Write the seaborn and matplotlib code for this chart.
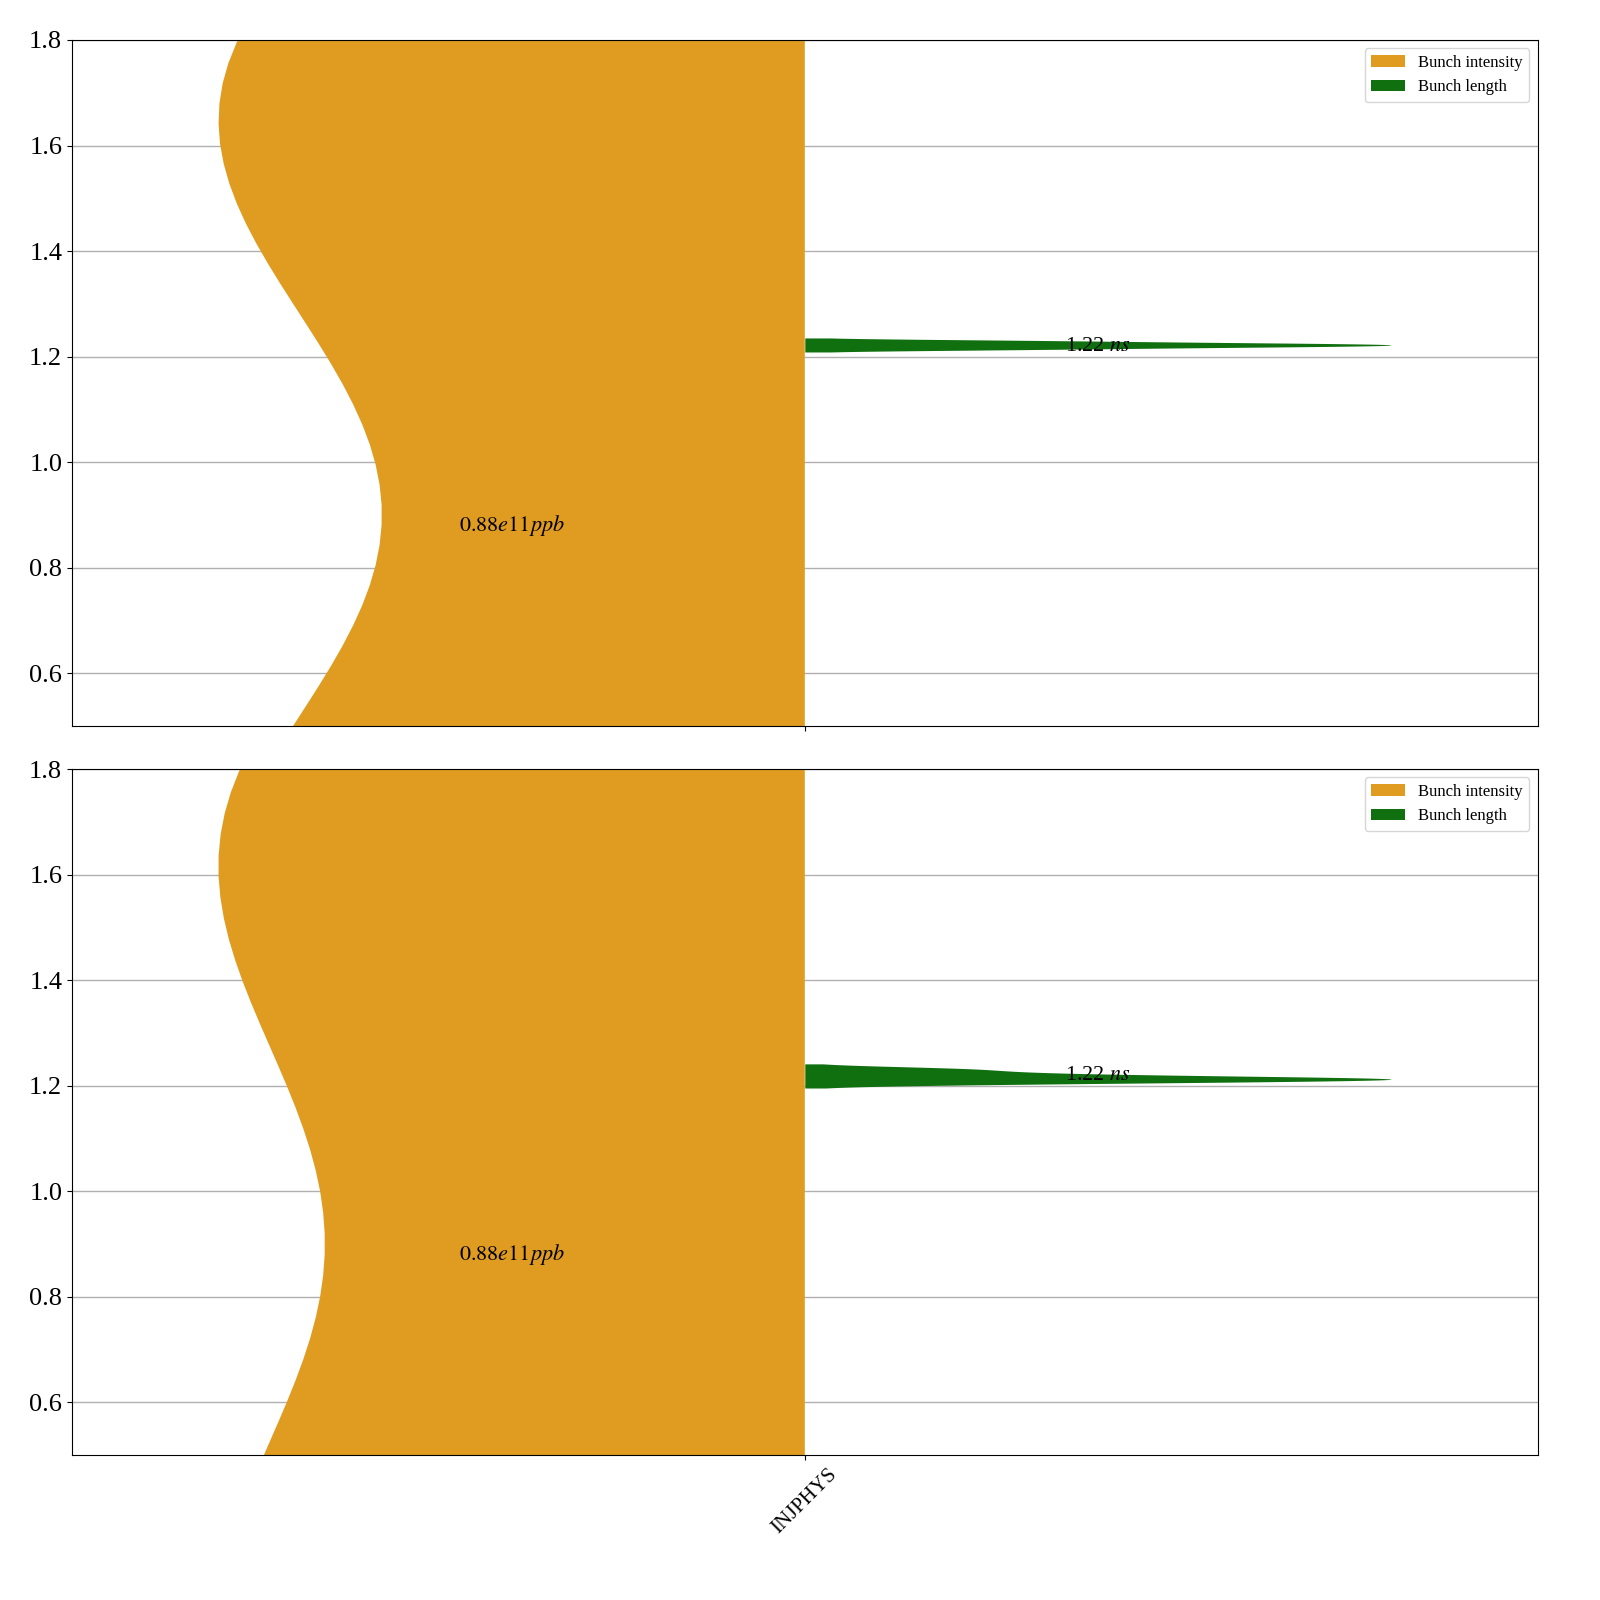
import matplotlib
matplotlib.use("Agg")
import matplotlib.pyplot as plt
import pandas as pd
import seaborn as sns

# values (intensity in 1e11 ppb, length in ns)
modes = ["INJPHYS"]
quantities = ["Bunch intensity", "Bunch length"]
top_intensity = [0.12, 1.68]
top_length = [1.214, 1.218, 1.220, 1.222, 1.224, 1.226, 1.230]
bottom_intensity = [0.12, 1.68]
bottom_length = [1.205, 1.209, 1.211, 1.213, 1.215, 1.218, 1.224, 1.232]
bw_factors = [0.5, 0.54]
intensity_label = r"$0.88e11 ppb$"
length_label = r"1.22 $ns$"
label_y = [0.88, 1.22]

plt.rcParams["font.family"] = "serif"
plt.rcParams["font.serif"] = ["Liberation Serif", "DejaVu Serif"]
plt.rcParams["mathtext.fontset"] = "stix"

fig, axes = plt.subplots(2, 1, figsize=(16, 16), dpi=100, sharex=True)
fig.subplots_adjust(left=0.045, right=0.961, top=0.975, bottom=0.0906, hspace=0.063)

panels = [(top_intensity, top_length), (bottom_intensity, bottom_length)]
for ax, (inten, length), bw in zip(axes, panels, bw_factors):
    df = pd.DataFrame({
        "mode": modes * (len(inten) + len(length)),
        "value": inten + length,
        "quantity": [quantities[0]] * len(inten) + [quantities[1]] * len(length),
    })
    sns.violinplot(data=df, x="mode", y="value", hue="quantity", hue_order=quantities,
                   split=True, inner=None, density_norm="width", bw_method=bw,
                   palette=["orange", "green"], linewidth=0, ax=ax)
    ax.set_ylim(0.5, 1.8)
    ax.set_xlabel("")
    ax.set_ylabel("")
    ax.yaxis.grid(True, color="#b0b0b0", linewidth=1)
    ax.set_axisbelow(True)
    ax.tick_params(axis="y", labelsize=19)
    ax.text(-0.2, label_y[0], intensity_label, ha="center", va="center", fontsize=16)
    ax.text(0.2, label_y[1], length_label, ha="center", va="center", fontsize=16)
    leg = ax.get_legend()
    ax.legend(leg.legend_handles, [t.get_text() for t in leg.get_texts()],
              loc="upper right", fontsize=12)

axes[1].tick_params(axis="x", labelsize=15)
plt.setp(axes[1].get_xticklabels(), rotation=45)

fig.savefig("out.png", dpi=100)
